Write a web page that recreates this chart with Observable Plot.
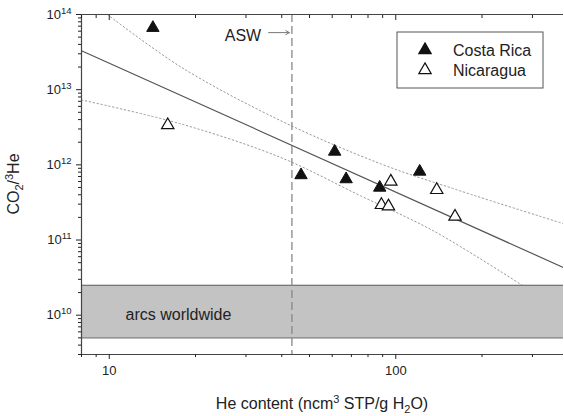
<!DOCTYPE html>
<html><head><meta charset="utf-8">
<script src="https://cdn.jsdelivr.net/npm/d3@7"></script>
<script src="https://cdn.jsdelivr.net/npm/@observablehq/plot@0.6"></script>
<style>body{margin:0;background:#fff;}</style>
</head><body><div id="chart"></div>
<script>
// Data
const costaHe = [14.2, 61.2, 46.7, 67.1, 87.9, 121.2];
const costaRatio = [6.65e13, 1.50e12, 7.3e11, 6.45e11, 4.98e11, 8.14e11];
const nicaHe = [16.0, 96.1, 139, 89.1, 94.3, 161];
const nicaRatio = [3.38e12, 5.99e11, 4.64e11, 2.93e11, 2.81e11, 2.05e11];
const fitHe = [8, 385];
const fitRatio = [3.3e13, 4.3e10];
const upperHe = [9.85, 17.8, 39.7, 88.7, 168, 385];
const upperRatio = [1e14, 2.0e13, 3.86e12, 1.03e12, 4.5e11, 1.65e11];
const lowerHe = [8, 17.8, 39.7, 75.5, 135.5, 279];
const lowerRatio = [7.3e12, 3.5e12, 1.25e12, 3.86e11, 1.32e11, 2.44e10];
const aswHe = 43.4;
const aswArrowHe = [36.0, 42.5];
const aswLabelPos = [33.9, 5.4e13];
const arcsRange = [5e9, 2.5e10];
const arcsLabelPos = [11.4, 1e10];
const xDomain = [8, 385];
const yDomain = [3e9, 1e14];
const xMajor = [10, 100];
const xMinor = [8, 9, 20, 30, 40, 50, 60, 70, 80, 90, 200, 300];
const yMajor = [1e10, 1e11, 1e12, 1e13, 1e14];
const yMinor = [3e9,4e9,5e9,6e9,7e9,8e9,9e9,
  2e10,3e10,4e10,5e10,6e10,7e10,8e10,9e10,
  2e11,3e11,4e11,5e11,6e11,7e11,8e11,9e11,
  2e12,3e12,4e12,5e12,6e12,7e12,8e12,9e12,
  2e13,3e13,4e13,5e13,6e13,7e13,8e13,9e13];
const seriesNames = ["Costa Rica", "Nicaragua"];

const toPts = (xs, ys) => xs.map((x, i) => ({x, y: ys[i]}));
const costa = toPts(costaHe, costaRatio);
const nica = toPts(nicaHe, nicaRatio);
const fit = toPts(fitHe, fitRatio);
const upper = toPts(upperHe, upperRatio);
const lower = toPts(lowerHe, lowerRatio);

const frameColor = "#444";
const symR = 4.6;

const plot = Plot.plot({
  width: 564, height: 416,
  marginLeft: 81, marginRight: 1, marginTop: 14, marginBottom: 62,
  x: {type: "log", domain: xDomain},
  y: {type: "log", domain: yDomain},
  style: {fontFamily: "Liberation Sans, Arial, sans-serif", fontSize: "13px", color: "#222", background: "white"},
  marks: [
    Plot.line(upper, {x: "x", y: "y", stroke: "#9a9a9a", strokeWidth: 1, strokeDasharray: "1.5,2.5", curve: "catmull-rom", clip: true}),
    Plot.line(lower, {x: "x", y: "y", stroke: "#9a9a9a", strokeWidth: 1, strokeDasharray: "1.5,2.5", curve: "catmull-rom", clip: true}),
    Plot.rect([{y1: arcsRange[0], y2: arcsRange[1]}], {y1: "y1", y2: "y2", fill: "#c3c3c3"}),
    Plot.ruleY(arcsRange, {stroke: "#777", strokeWidth: 1.2}),
    Plot.text([{x: arcsLabelPos[0], y: arcsLabelPos[1], t: "arcs worldwide"}], {x: "x", y: "y", text: "t", textAnchor: "start", fontSize: 16, fill: "#222"}),
    Plot.ruleX([aswHe], {stroke: "#888", strokeWidth: 1.3, strokeDasharray: "8,4"}),
    Plot.arrow([{x1: aswArrowHe[0], x2: aswArrowHe[1], y: aswLabelPos[1]}], {x1: "x1", x2: "x2", y1: "y", y2: "y", stroke: "#777", strokeWidth: 1, headLength: 6, dy: -2}),
    Plot.text([{x: aswLabelPos[0], y: aswLabelPos[1], t: "ASW"}], {x: "x", y: "y", text: "t", textAnchor: "end", fontSize: 16, fill: "#222", dy: 1}),
    Plot.line(fit, {x: "x", y: "y", stroke: "#555", strokeWidth: 1.2, clip: true}),
    Plot.dot(nica, {x: "x", y: "y", symbol: "triangle", r: symR, fill: "white", stroke: "#111", strokeWidth: 1.2}),
    Plot.dot(costa, {x: "x", y: "y", symbol: "triangle", r: symR, fill: "#111", stroke: "#111", strokeWidth: 1}),
    // frame lines (left, top, bottom)
    Plot.ruleX([xDomain[0]], {stroke: frameColor, strokeWidth: 1.2}),
    Plot.ruleY([yDomain[1]], {stroke: frameColor, strokeWidth: 1.2}),
    Plot.ruleY([yDomain[0]], {stroke: frameColor, strokeWidth: 1.2}),
    // axes
    Plot.axisX(xMajor, {anchor: "bottom", tickSize: 5, tickPadding: 6, tickFormat: d => String(d), label: null, fontSize: 13}),
    Plot.axisX(xMinor, {anchor: "bottom", tickSize: 3, tickFormat: () => "", label: null}),
    Plot.axisX(xMajor, {anchor: "top", tickSize: -5, tickFormat: () => "", label: null}),
    Plot.axisX(xMinor, {anchor: "top", tickSize: -3, tickFormat: () => "", label: null}),
    Plot.axisY(yMajor, {anchor: "left", tickSize: 5, tickPadding: 5, tickFormat: d => "10^" + Math.round(Math.log10(d)), label: null, fontSize: 13}),
    Plot.axisY(yMinor, {anchor: "left", tickSize: 3, tickFormat: () => "", label: null})
  ]
});
document.getElementById("chart").appendChild(plot);

const svg = d3.select(plot);
// superscript exponents on y tick labels
svg.selectAll("text").each(function() {
  const t = this.textContent;
  if (/^10\^\d+$/.test(t)) {
    const e = t.split("^")[1];
    const el = d3.select(this);
    el.text(null);
    el.append("tspan").text("10");
    el.append("tspan").attr("dy", "-5").attr("font-size", 9.5).text(e);
  }
});

// axis titles
const xt = svg.append("text").attr("x", 322).attr("y", 409).attr("text-anchor", "middle")
  .attr("font-size", 16).attr("fill", "#222");
xt.append("tspan").text("He content (ncm");
xt.append("tspan").attr("dy", -6).attr("font-size", 11).text("3");
xt.append("tspan").attr("dy", 6).text(" STP/g H");
xt.append("tspan").attr("dy", 4).attr("font-size", 11).text("2");
xt.append("tspan").attr("dy", -4).text("O)");

const yt = svg.append("text").attr("transform", "translate(19,184) rotate(-90)").attr("text-anchor", "middle")
  .attr("font-size", 16).attr("fill", "#222");
yt.append("tspan").text("CO");
yt.append("tspan").attr("dy", 4).attr("font-size", 11).text("2");
yt.append("tspan").attr("dy", -4).text("/");
yt.append("tspan").attr("dy", -6).attr("font-size", 11).text("3");
yt.append("tspan").attr("dy", 6).text("He");

// legend
const lg = svg.append("g");
lg.append("rect").attr("x", 397).attr("y", 32).attr("width", 146).attr("height", 56)
  .attr("fill", "white").attr("stroke", "#555").attr("stroke-width", 1);
const tri = d3.symbol(d3.symbolTriangle, symR * symR * Math.PI)();
[["#111", "#111"], ["white", "#111"]].forEach(([f, s], i) => {
  lg.append("path").attr("d", tri).attr("transform", `translate(425,${50 + i * 20})`)
    .attr("fill", f).attr("stroke", s).attr("stroke-width", 1.2);
  lg.append("text").attr("x", 453).attr("y", 50 + i * 20).attr("dy", "0.35em")
    .attr("text-anchor", "start")
    .attr("font-size", 16).attr("fill", "#222").text(seriesNames[i]);
});
</script>
</body></html>
